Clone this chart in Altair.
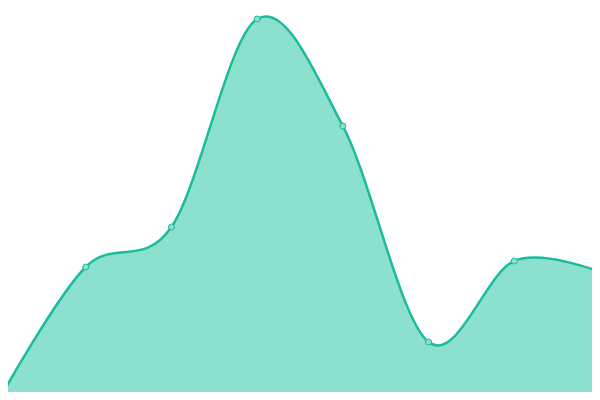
import altair as alt
import pandas as pd

idx = [0, 1, 2, 3, 4, 5, 6, 7]
values = [2, 133, 173, 381, 274, 58, 139, 128]

df = pd.DataFrame({"i": idx, "v": values})

x = alt.X("i:Q", axis=None, scale=alt.Scale(domain=[0.0933, 6.907]))
y = alt.Y("v:Q", axis=None, scale=alt.Scale(domain=[8, 392], zero=False))

base = alt.Chart(df)
area = base.mark_area(
    interpolate="cardinal", color="#8be0ce", opacity=1,
    line={"color": "#1abc9c", "strokeWidth": 2.5}
).encode(x=x, y=y)
pts = base.mark_point(
    filled=True, fill="#8be0ce", stroke="#1abc9c", strokeWidth=1, size=36, opacity=1
).encode(x=x, y=y)

chart = (area + pts).properties(width=584, height=384, padding=0, autosize="none").configure_view(strokeWidth=0)
chart.save("out.html", embed_options={"renderer": "svg", "actions": False})
